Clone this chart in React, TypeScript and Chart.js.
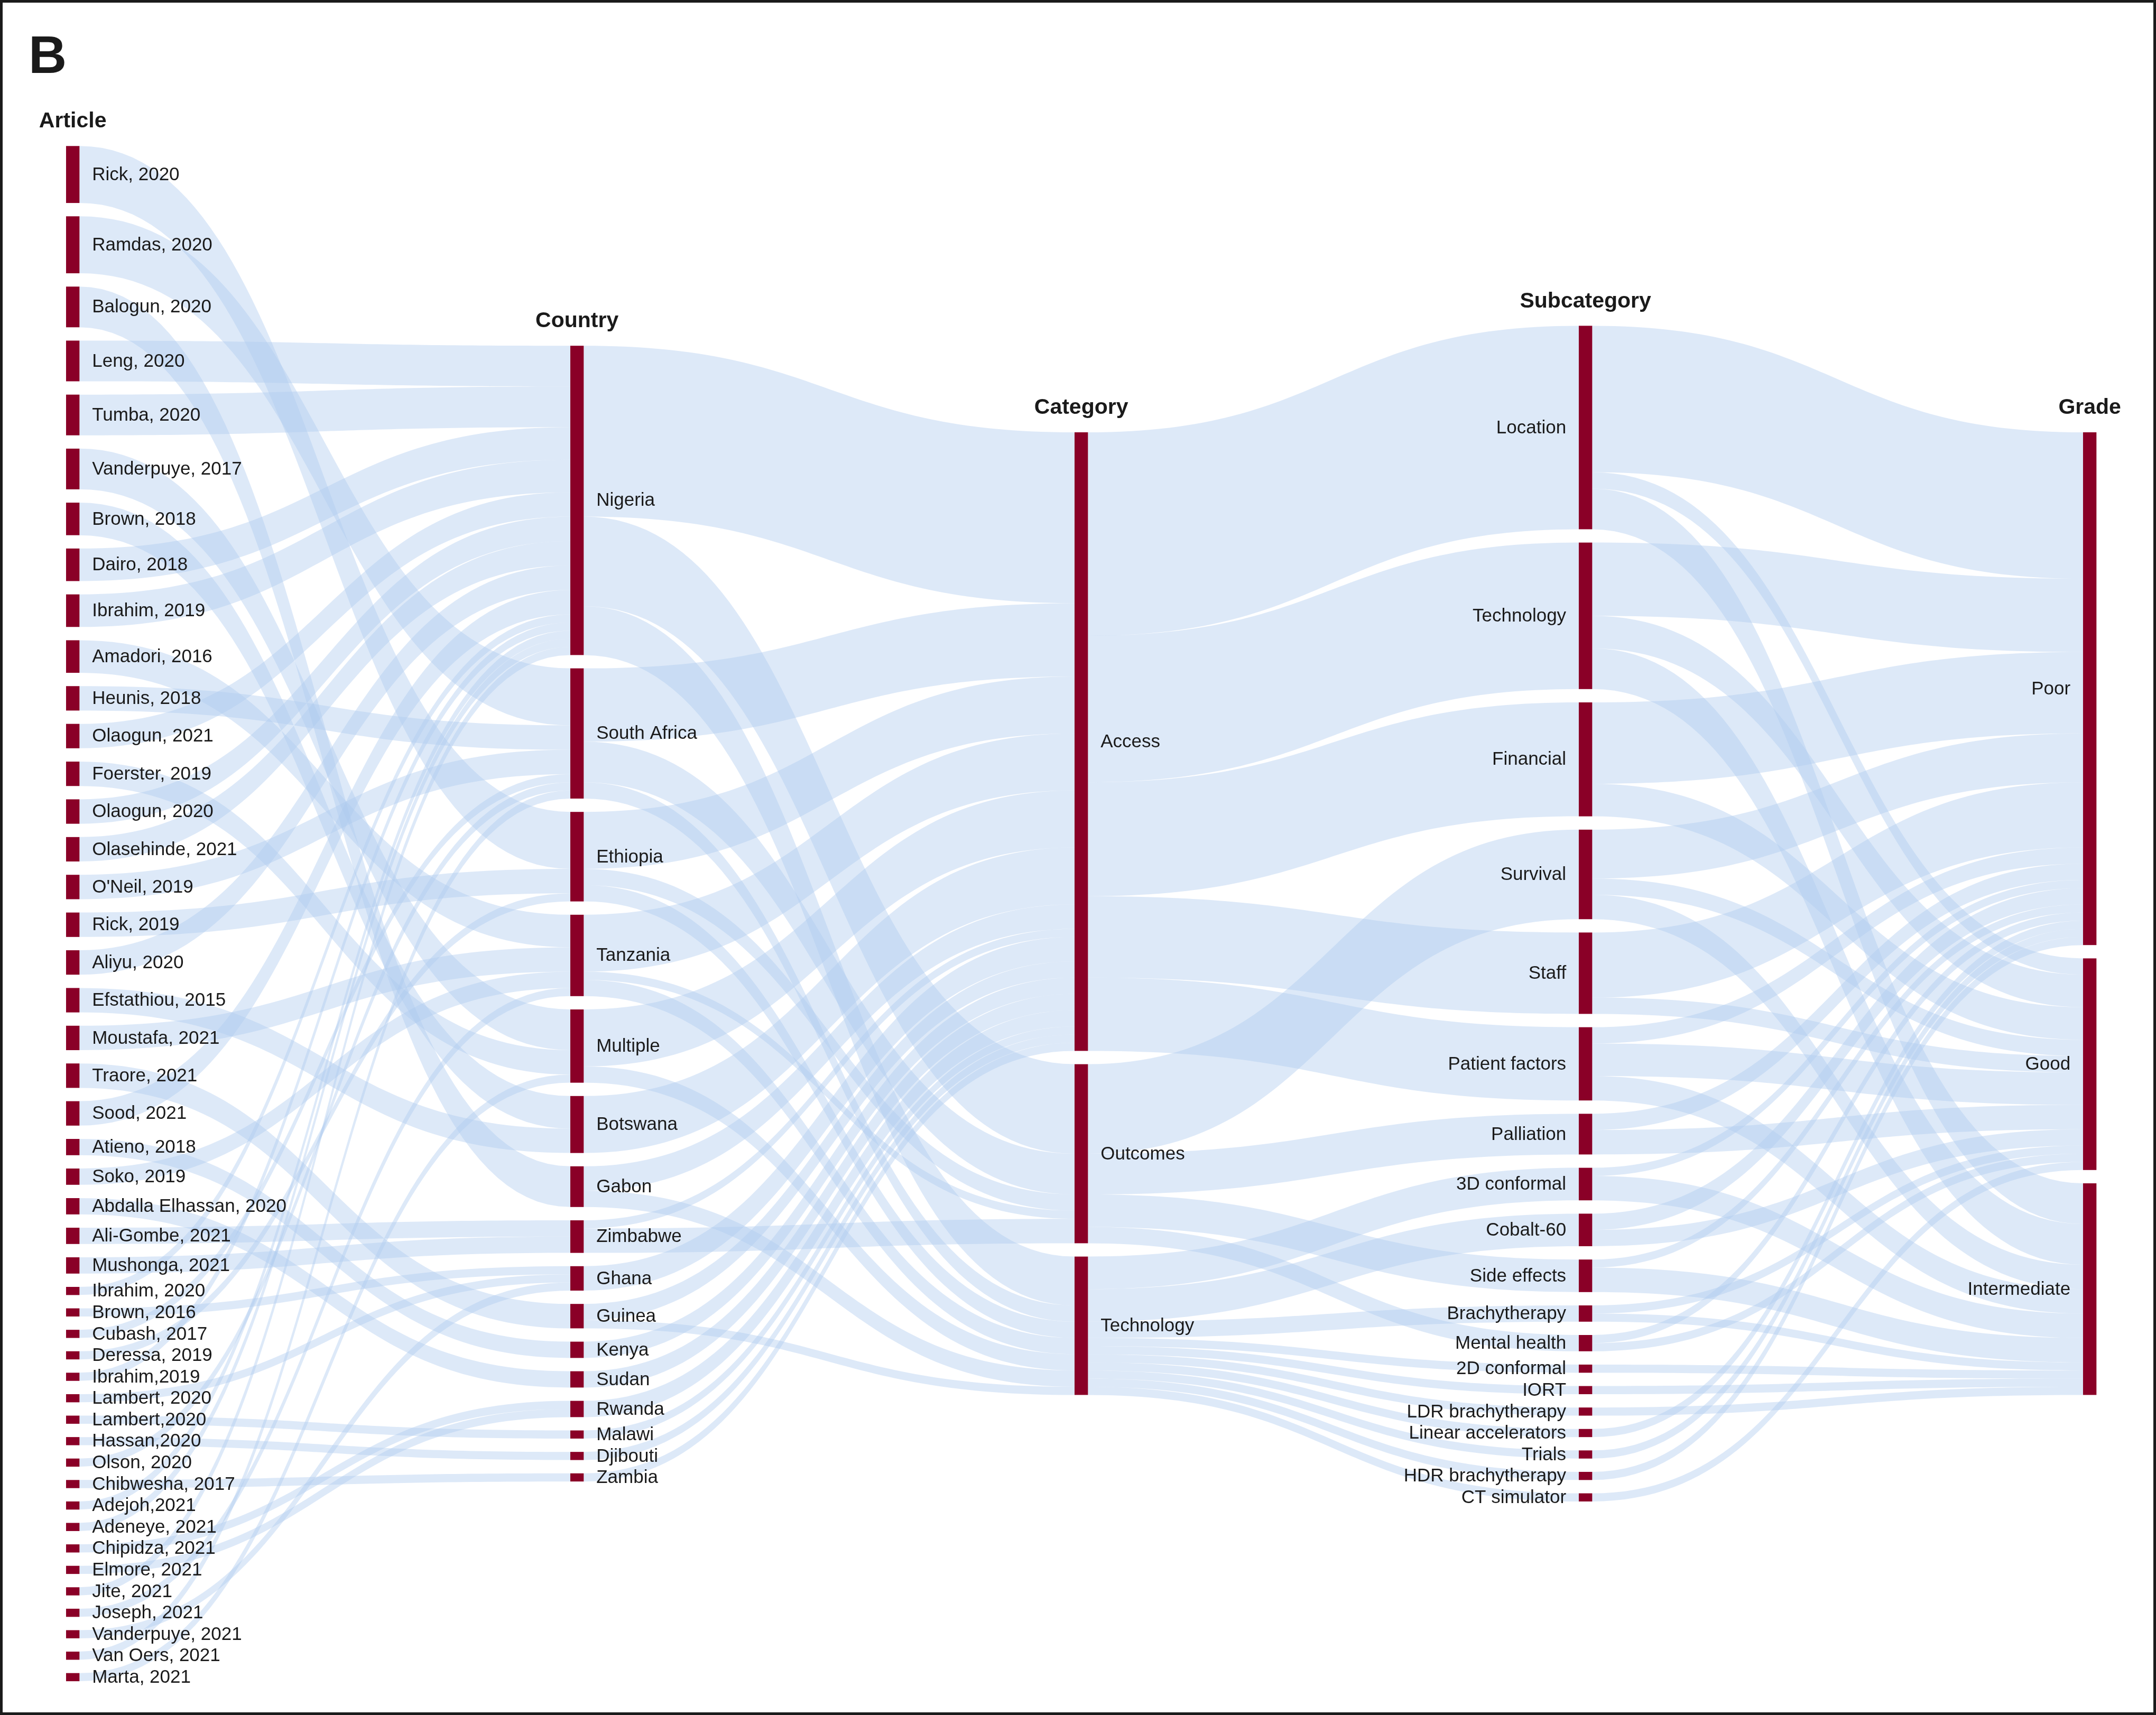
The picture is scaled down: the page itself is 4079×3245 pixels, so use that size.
import React, { useEffect, useRef } from "react";
import { Chart, registerables } from "chart.js";

Chart.register(...registerables);

// ---------------- data ----------------
const COLUMN_TITLES = ["Article", "Country", "Category", "Subcategory", "Grade"];

const ARTICLES = [
  "Rick, 2020", "Ramdas, 2020", "Balogun, 2020", "Leng, 2020", "Tumba, 2020",
  "Vanderpuye, 2017", "Brown, 2018", "Dairo, 2018", "Ibrahim, 2019", "Amadori, 2016",
  "Heunis, 2018", "Olaogun, 2021", "Foerster, 2019", "Olaogun, 2020", "Olasehinde, 2021",
  "O'Neil, 2019", "Rick, 2019", "Aliyu, 2020", "Efstathiou, 2015", "Moustafa, 2021",
  "Traore, 2021", "Sood, 2021", "Atieno, 2018", "Soko, 2019", "Abdalla Elhassan, 2020",
  "Ali-Gombe, 2021", "Mushonga, 2021", "Ibrahim, 2020", "Brown, 2016", "Cubash, 2017",
  "Deressa, 2019", "Ibrahim,2019", "Lambert, 2020", "Lambert,2020", "Hassan,2020",
  "Olson, 2020", "Chibwesha, 2017", "Adejoh,2021", "Adeneye, 2021", "Chipidza, 2021",
  "Elmore, 2021", "Jite, 2021", "Joseph, 2021", "Vanderpuye, 2021", "Van Oers, 2021",
  "Marta, 2021",
];

const ARTICLE_VALUES = [
  7, 7, 5, 5, 5,
  5, 4, 4, 4, 4,
  3, 3, 3, 3, 3,
  3, 3, 3, 3, 3,
  3, 3, 2, 2, 2,
  2, 2, 1, 1, 1,
  1, 1, 1, 1, 1,
  1, 1, 1, 1, 1,
  1, 1, 1, 1, 1,
  1,
];

const ARTICLE_COUNTRY = [
  "Ethiopia", "South Africa", "Gabon", "Nigeria", "Nigeria",
  "Multiple", "Botswana", "Nigeria", "Nigeria", "Tanzania",
  "South Africa", "Nigeria", "Multiple", "Nigeria", "Nigeria",
  "South Africa", "Ethiopia", "Nigeria", "Botswana", "Tanzania",
  "Guinea", "Nigeria", "Kenya", "Tanzania", "Sudan",
  "Zimbabwe", "Zimbabwe", "Nigeria", "Ghana", "South Africa",
  "Ethiopia", "Nigeria", "Ghana", "Malawi", "Djibouti",
  "South Africa", "Zambia", "Nigeria", "Nigeria", "Rwanda",
  "Rwanda", "Nigeria", "Tanzania", "Ghana", "South Africa",
  "Multiple",
];

const COUNTRIES = [
  "Nigeria", "South Africa", "Ethiopia", "Tanzania", "Multiple", "Botswana",
  "Gabon", "Zimbabwe", "Ghana", "Guinea", "Kenya", "Sudan", "Rwanda",
  "Malawi", "Djibouti", "Zambia",
];

const CATEGORIES = ["Access", "Outcomes", "Technology"];

const COUNTRY_CATEGORY: [string, string, number][] = [
  ["Nigeria", "Access", 21], ["Nigeria", "Outcomes", 11], ["Nigeria", "Technology", 6],
  ["South Africa", "Access", 9], ["South Africa", "Outcomes", 5], ["South Africa", "Technology", 2],
  ["Ethiopia", "Access", 7], ["Ethiopia", "Outcomes", 2], ["Ethiopia", "Technology", 2],
  ["Tanzania", "Access", 7], ["Tanzania", "Outcomes", 1], ["Tanzania", "Technology", 2],
  ["Multiple", "Access", 7], ["Multiple", "Technology", 2],
  ["Botswana", "Access", 7],
  ["Gabon", "Access", 3], ["Gabon", "Technology", 2],
  ["Zimbabwe", "Access", 1], ["Zimbabwe", "Outcomes", 3],
  ["Ghana", "Access", 3],
  ["Guinea", "Access", 2], ["Guinea", "Technology", 1],
  ["Kenya", "Access", 2],
  ["Sudan", "Access", 2],
  ["Rwanda", "Access", 2],
  ["Malawi", "Access", 1],
  ["Djibouti", "Access", 1],
  ["Zambia", "Access", 1],
];

const SUBCATEGORIES = [
  "Location", "Technology", "Financial", "Survival", "Staff", "Patient factors",
  "Palliation", "3D conformal", "Cobalt-60", "Side effects", "Brachytherapy",
  "Mental health", "2D conformal", "IORT", "LDR brachytherapy",
  "Linear accelerators", "Trials", "HDR brachytherapy", "CT simulator",
];

const CATEGORY_SUBCATEGORY: [string, string, number][] = [
  ["Access", "Location", 25], ["Access", "Technology", 18], ["Access", "Financial", 14],
  ["Access", "Staff", 10], ["Access", "Patient factors", 9],
  ["Outcomes", "Survival", 11], ["Outcomes", "Palliation", 5],
  ["Outcomes", "Side effects", 4], ["Outcomes", "Mental health", 2],
  ["Technology", "3D conformal", 4], ["Technology", "Cobalt-60", 4],
  ["Technology", "Brachytherapy", 2], ["Technology", "2D conformal", 1],
  ["Technology", "IORT", 1], ["Technology", "LDR brachytherapy", 1],
  ["Technology", "Linear accelerators", 1], ["Technology", "Trials", 1],
  ["Technology", "HDR brachytherapy", 1], ["Technology", "CT simulator", 1],
];

const GRADES = ["Poor", "Good", "Intermediate"];

const SUBCATEGORY_GRADE: [string, string, number][] = [
  ["Location", "Poor", 18], ["Location", "Good", 2], ["Location", "Intermediate", 5],
  ["Technology", "Poor", 9], ["Technology", "Good", 4], ["Technology", "Intermediate", 5],
  ["Financial", "Poor", 10], ["Financial", "Good", 4],
  ["Survival", "Poor", 6], ["Survival", "Good", 2], ["Survival", "Intermediate", 3],
  ["Staff", "Poor", 8], ["Staff", "Good", 2],
  ["Patient factors", "Poor", 2], ["Patient factors", "Good", 4], ["Patient factors", "Intermediate", 3],
  ["Palliation", "Poor", 2], ["Palliation", "Good", 3],
  ["3D conformal", "Poor", 1], ["3D conformal", "Intermediate", 3],
  ["Cobalt-60", "Poor", 2], ["Cobalt-60", "Good", 2],
  ["Side effects", "Poor", 1], ["Side effects", "Intermediate", 3],
  ["Brachytherapy", "Good", 1], ["Brachytherapy", "Intermediate", 1],
  ["Mental health", "Poor", 1], ["Mental health", "Good", 1],
  ["2D conformal", "Intermediate", 1], ["IORT", "Intermediate", 1],
  ["LDR brachytherapy", "Intermediate", 1], ["Linear accelerators", "Poor", 1],
  ["Trials", "Poor", 1], ["HDR brachytherapy", "Poor", 1], ["CT simulator", "Good", 1],
];

// ---------------- layout constants ----------------
const W = 4079;
const H = 3245;
const X_MIN = -0.131;
const X_MAX = 4.1447;
const Y_MAX = 210.71;
const COLUMN_CENTER = 112.25;
const NODE_PAD = 1.636;
const NODE_WIDTH = 0.0266;
const LABEL_GAP = 0.025;
const TITLE_GAP = 3.0;

const NODE_COLOR = "#8a0027";
const LINK_COLOR = "rgba(172, 201, 238, 0.41)";
const TEXT_COLOR = "#1a1a1a";
const FONT = '"Liberation Sans", Arial, Helvetica, sans-serif';

type SNode = {
  key: string; name: string; col: number; inV: number; outV: number;
  ins: SLink[]; outs: SLink[]; y0: number; y1: number;
};
type SLink = { S: SNode; T: SNode; v: number; sy0: number; sy1: number; ty0: number; ty1: number };

function buildSankey() {
  const columns = [ARTICLES, COUNTRIES, CATEGORIES, SUBCATEGORIES, GRADES];
  const nodes: SNode[] = [];
  const byKey = new Map<string, SNode>();
  columns.forEach((names, c) =>
    names.forEach((n) => {
      const node: SNode = { key: c + ":" + n, name: n, col: c, inV: 0, outV: 0, ins: [], outs: [], y0: 0, y1: 0 };
      nodes.push(node);
      byKey.set(node.key, node);
    })
  );
  const links: SLink[] = [];
  const add = (c: number, s: string, t: string, v: number) => {
    const S = byKey.get(c + ":" + s);
    const T = byKey.get(c + 1 + ":" + t);
    if (!S || !T) return;
    const l: SLink = { S, T, v, sy0: 0, sy1: 0, ty0: 0, ty1: 0 };
    links.push(l);
    S.outs.push(l);
    T.ins.push(l);
    S.outV += v;
    T.inV += v;
  };
  ARTICLES.forEach((a, i) => add(0, a, ARTICLE_COUNTRY[i], ARTICLE_VALUES[i]));
  COUNTRY_CATEGORY.forEach(([s, t, v]) => add(1, s, t, v));
  CATEGORY_SUBCATEGORY.forEach(([s, t, v]) => add(2, s, t, v));
  SUBCATEGORY_GRADE.forEach(([s, t, v]) => add(3, s, t, v));

  columns.forEach((_, c) => {
    const colNodes = nodes.filter((n) => n.col === c);
    const total =
      colNodes.reduce((a, n) => a + Math.max(n.inV, n.outV), 0) + NODE_PAD * (colNodes.length - 1);
    let y = COLUMN_CENTER - total / 2;
    colNodes.forEach((n) => {
      n.y0 = y;
      n.y1 = y + Math.max(n.inV, n.outV);
      y = n.y1 + NODE_PAD;
    });
  });
  nodes.forEach((n) => {
    n.outs.sort((a, b) => a.T.y0 - b.T.y0);
    let y = n.y0;
    n.outs.forEach((l) => { l.sy0 = y; y += l.v; l.sy1 = y; });
    n.ins.sort((a, b) => a.S.y0 - b.S.y0);
    y = n.y0;
    n.ins.forEach((l) => { l.ty0 = y; y += l.v; l.ty1 = y; });
  });
  return { nodes, links };
}

export default function App() {
  const canvasRef = useRef<HTMLCanvasElement | null>(null);

  useEffect(() => {
    document.body.style.margin = "0";
    document.body.style.overflow = "hidden";
    const canvas = canvasRef.current;
    if (!canvas) return;
    const { nodes, links } = buildSankey();

    const sankeyPlugin = {
      id: "sankeyDraw",
      afterDatasetsDraw(chart: any) {
        const { ctx, scales } = chart;
        const xs = scales.x;
        const ys = scales.y;
        const px = (v: number) => xs.getPixelForValue(v);
        const py = (v: number) => ys.getPixelForValue(v);
        ctx.save();

        // links
        ctx.fillStyle = LINK_COLOR;
        links.forEach((l) => {
          const x0 = px(l.S.col + NODE_WIDTH);
          const x1 = px(l.T.col);
          const xm = (x0 + x1) / 2;
          const a0 = py(l.sy0), a1 = py(l.sy1), b0 = py(l.ty0), b1 = py(l.ty1);
          ctx.beginPath();
          ctx.moveTo(x0, a0);
          ctx.bezierCurveTo(xm, a0, xm, b0, x1, b0);
          ctx.lineTo(x1, b1);
          ctx.bezierCurveTo(xm, b1, xm, a1, x0, a1);
          ctx.closePath();
          ctx.fill();
        });

        // nodes
        ctx.fillStyle = NODE_COLOR;
        nodes.forEach((n) => {
          const x0 = px(n.col), x1 = px(n.col + NODE_WIDTH);
          const y0 = py(n.y0), y1 = py(n.y1);
          ctx.fillRect(x0, y0, x1 - x0, y1 - y0);
        });

        // node labels
        ctx.fillStyle = TEXT_COLOR;
        ctx.font = "35px " + FONT;
        ctx.textBaseline = "middle";
        nodes.forEach((n) => {
          const ym = py((n.y0 + n.y1) / 2) + 1;
          if (n.col >= 3) {
            ctx.textAlign = "right";
            ctx.fillText(n.name, px(n.col - LABEL_GAP), ym);
          } else {
            ctx.textAlign = "left";
            ctx.fillText(n.name, px(n.col + NODE_WIDTH + LABEL_GAP), ym);
          }
        });

        // column titles
        ctx.font = "bold 41px " + FONT;
        ctx.textAlign = "center";
        COLUMN_TITLES.forEach((t, c) => {
          const top = Math.min(...nodes.filter((n) => n.col === c).map((n) => n.y0));
          ctx.fillText(t, px(c + NODE_WIDTH / 2), py(top - TITLE_GAP));
        });

        // panel letter
        ctx.font = "bold 100px " + FONT;
        ctx.textAlign = "left";
        ctx.textBaseline = "alphabetic";
        ctx.fillText("B", 54, 138);

        // frame
        ctx.strokeStyle = "#1b1b1b";
        ctx.lineWidth = 5;
        ctx.strokeRect(2.5, 2.5, chart.width - 5, chart.height - 5);
        ctx.restore();
      },
    };

    const chart = new Chart(canvas, {
      type: "scatter",
      data: {
        datasets: [
          {
            data: nodes.map((n) => ({ x: n.col + NODE_WIDTH / 2, y: (n.y0 + n.y1) / 2 })),
            pointRadius: 0,
            pointHoverRadius: 0,
          },
        ],
      },
      options: {
        animation: false,
        responsive: false,
        devicePixelRatio: 1,
        layout: { padding: 0 },
        plugins: { legend: { display: false }, tooltip: { enabled: false }, title: { display: false } },
        events: [],
        scales: {
          x: { type: "linear", min: X_MIN, max: X_MAX, display: false },
          y: { type: "linear", min: 0, max: Y_MAX, reverse: true, display: false },
        },
      },
      plugins: [sankeyPlugin],
    });
    return () => chart.destroy();
  }, []);

  return (
    <div style={{ width: W, height: H, background: "#ffffff" }}>
      <canvas ref={canvasRef} width={W} height={H} style={{ display: "block" }} />
    </div>
  );
}
